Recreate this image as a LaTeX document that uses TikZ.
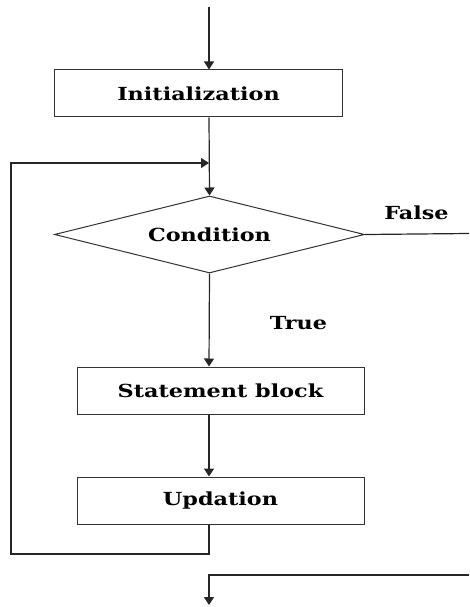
\documentclass[tikz,border=0pt]{standalone}
\usepackage{fontspec}
\newfontfamily\chartfont[FakeStretch=1.24]{DejaVu Serif}
\usetikzlibrary{arrows.meta,shapes.geometric}
\begin{document}
\begin{tikzpicture}[x=1pt,y=-1pt,
  box/.style={draw=black!80, line width=1pt, inner sep=0pt,
    font=\chartfont\bfseries\fontsize{18}{20}\selectfont},
  decision/.style={box, shape=diamond, aspect=4, minimum width=310pt, minimum height=77pt},
  flow/.style={draw=black!85, line width=1.2pt},
  tip/.style={-{Triangle[length=8pt,width=10pt]}},
  lbl/.style={inner sep=0pt, font=\chartfont\bfseries\fontsize{18}{20}\selectfont}]
\fill[white] (0,0) rectangle (469,607);
\useasboundingbox (0,0) rectangle (469,607);

% spine of the flowchart
\coordinate (entry) at (209,7);
\coordinate (merge) at (209,163);
\coordinate (loopbot) at (11,554);
\coordinate (falseend) at (469,233.5);
\coordinate (exitin) at (469,575);
\coordinate (exitout) at (209,605);

% blocks
\node[box, minimum width=288pt, minimum height=47pt] (init) at (198.5,93.5) {Initialization};
\node[decision] (cond) at (209.5,234.5) {Condition};
\node[box, minimum width=287pt, minimum height=47pt] (stmt) at (220.5,390.5) {Statement block};
\node[box, minimum width=287pt, minimum height=47pt] (upd) at (220.5,500.5) {Updation};

% branch labels
\node[lbl] (flabel) at (416.5,213) {False};
\node[lbl] (tlabel) at (298.5,323) {True};

% connectors
\draw[flow,tip] (entry) -- (init.north -| entry);
\draw[flow,tip] (init.south -| entry) -- (cond.north);
\draw[flow,tip] (cond.south) -- (stmt.north -| entry);
\draw[flow,tip] (stmt.south -| entry) -- (upd.north -| entry);
\draw[flow,tip] (upd.south -| entry) -- (entry |- loopbot) -- (loopbot)
  -- (loopbot |- merge) -- (merge);
\draw[flow] (cond.east) -- (falseend);
\draw[flow,tip] (exitin) -| (exitout);
\end{tikzpicture}
\end{document}
